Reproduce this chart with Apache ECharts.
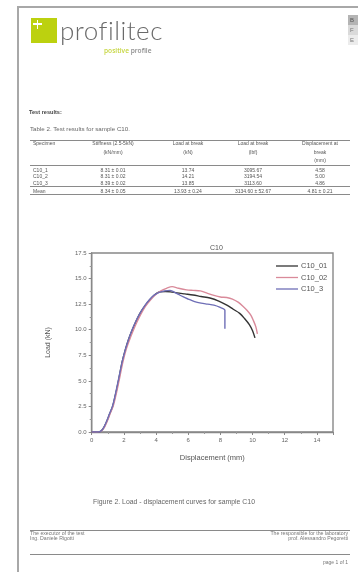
<!DOCTYPE html>
<html><head><meta charset="utf-8">
<script src="https://cdn.jsdelivr.net/npm/echarts/dist/echarts.min.js"></script>
<style>
html,body{margin:0;padding:0;background:#fff;width:358px;height:572px;overflow:hidden;font-family:"Liberation Sans",Arial,sans-serif;}
#doc{position:absolute;left:0;top:0;width:358px;height:572px;will-change:transform;-webkit-font-smoothing:antialiased;}
.a{position:absolute;white-space:nowrap;line-height:1;}
#chart{position:absolute;left:0;top:0;width:358px;height:572px;}
</style></head><body>
<script>
// ---- chart data ----
const seriesNames = ["C10_01", "C10_02", "C10_3"];
const c10_01 = [[0,0],[0.3,0],[0.5,0.02],[0.7,0.3],[0.9,0.9],[1.1,1.7],[1.3,2.5],[1.5,3.8],[1.7,5.3],[1.9,6.9],[2.1,8.1],[2.3,9.1],[2.5,9.9],[2.75,10.8],[3.0,11.6],[3.3,12.3],[3.6,12.9],[3.9,13.4],[4.2,13.7],[4.58,13.74],[4.9,13.7],[5.3,13.6],[5.8,13.5],[6.3,13.4],[6.8,13.25],[7.35,13.1],[7.9,12.8],[8.4,12.4],[8.8,12.0],[9.2,11.6],[9.5,11.1],[9.8,10.5],[10.0,9.9],[10.15,9.2]];
const c10_02 = [[0,0],[0.35,0],[0.55,0.05],[0.75,0.35],[0.95,1.0],[1.15,1.8],[1.35,2.6],[1.55,3.9],[1.75,5.4],[1.95,6.9],[2.15,8.1],[2.35,9.0],[2.55,9.8],[2.8,10.7],[3.05,11.5],[3.35,12.3],[3.65,12.9],[3.95,13.4],[4.3,13.8],[4.65,14.05],[5.0,14.21],[5.4,14.05],[5.9,13.9],[6.3,13.85],[6.75,13.8],[7.2,13.55],[7.6,13.35],[8.0,13.2],[8.4,13.15],[8.75,13.0],[9.1,12.7],[9.4,12.3],[9.65,11.9],[9.9,11.4],[10.05,10.9],[10.2,10.3],[10.3,9.6]];
const c10_3 = [[0,0],[0.3,0],[0.5,0.02],[0.7,0.3],[0.9,0.95],[1.1,1.75],[1.3,2.55],[1.5,3.9],[1.7,5.4],[1.9,6.9],[2.1,8.1],[2.3,9.1],[2.5,9.95],[2.75,10.85],[3.0,11.6],[3.3,12.35],[3.6,12.95],[3.9,13.4],[4.2,13.65],[4.55,13.8],[4.86,13.85],[5.1,13.7],[5.4,13.45],[5.7,13.2],[6.0,13.0],[6.4,12.75],[6.8,12.6],[7.2,12.5],[7.6,12.4],[7.95,12.2],[8.28,11.9],[8.28,10.1]];
const seriesColors = ["#333333", "#d98a9a", "#6e6eb6"];

// ---- table data ----
const tableHeader = [["Specimen"],["Stiffness (2.5-5kN)","(kN/mm)"],["Load at break","(kN)"],["Load at break","(lbf)"],["Displacement at","break","(mm)"]];
const tableRows = [
  ["C10_1","8.31 ± 0.01","13.74","3095.67","4.58"],
  ["C10_2","8.31 ± 0.02","14.21","3194.54","5.00"],
  ["C10_3","8.39 ± 0.02","13.85","3113.60","4.86"],
  ["Mean","8.34 ± 0.05","13.93 ± 0.24","3134.60 ± 52.67","4.81 ± 0.21"]
];
</script>

<div id="doc">
<!-- page frame -->
<div class="a" style="left:17px;top:6px;width:341px;height:2px;background:#a8a8a8;"></div>
<div class="a" style="left:17px;top:6px;width:2px;height:566px;background:#a8a8a8;"></div>

<!-- logo -->
<div class="a" style="left:31px;top:18px;width:26px;height:25px;background:#bcd10f;"></div>
<div class="a" style="left:33px;top:23px;width:9px;height:1.6px;background:#fff;"></div>
<div class="a" style="left:36.7px;top:19.5px;width:1.6px;height:9px;background:#fff;"></div>
<div class="a" style="left:60px;top:17px;font-family:Lato,'Open Sans',sans-serif;font-weight:300;font-size:26px;color:#6a6a6a;letter-spacing:0.5px;">profilitec</div>
<div class="a" style="left:104px;top:47.5px;font-family:'Open Sans',sans-serif;font-weight:600;font-size:6.6px;"><span style="color:#c6d640">positive</span> <span style="color:#8c8c8c">profile</span></div>

<!-- right header box -->
<div class="a" style="left:348px;top:15px;width:10px;height:10px;background:#b4b4b4;"></div>
<div class="a" style="left:348px;top:25px;width:10px;height:10px;background:#dadada;"></div>
<div class="a" style="left:348px;top:35px;width:10px;height:10px;background:#ececec;"></div>
<div class="a" style="left:350px;top:17px;font-size:6px;color:#555;">B</div>
<div class="a" style="left:350px;top:27px;font-size:6px;color:#777;">F</div>
<div class="a" style="left:350px;top:37px;font-size:6px;color:#777;">E</div>

<!-- test results text -->
<div class="a" style="left:29px;top:110px;font-size:5.6px;font-weight:bold;color:#444;">Test results:</div>
<div class="a" style="left:30px;top:126px;font-size:6.2px;color:#666;">Table 2. Test results for sample C10.</div>
<div id="tbl"></div>

<!-- caption + footer -->
<div class="a" style="left:93px;top:498.5px;font-size:6.9px;color:#666;">Figure 2. Load - displacement curves for sample C10</div>
<div class="a" style="left:30px;top:529.5px;width:320px;height:1.5px;background:#8a8a8a;"></div>
<div class="a" style="left:30px;top:531px;font-size:5.2px;color:#777;">The executor of the test</div>
<div class="a" style="left:30px;top:536px;font-size:5.2px;color:#777;">Ing. Daniele Rigotti</div>
<div class="a" style="right:10px;top:531px;font-size:5.2px;color:#777;text-align:right;">The responsible for the laboratory</div>
<div class="a" style="right:10px;top:536px;font-size:5.2px;color:#777;text-align:right;">prof. Alessandro Pegoretti</div>
<div class="a" style="left:30px;top:553.5px;width:320px;height:1.5px;background:#8a8a8a;"></div>
<div class="a" style="right:10px;top:559.5px;font-size:5px;color:#777;">page 1 of 1</div>
</div>

<div id="chart"></div>
<script>
// build table
(function(){
  const t = document.getElementById('tbl');
  const cx = [33, 113, 188, 253, 320];
  let h = '';
  const lines = [139.5, 165, 186, 194];
  lines.forEach(y => { h += '<div class="a" style="left:30px;top:'+y+'px;width:320px;height:1px;background:#8a8a8a;"></div>'; });
  const hy = [140.5, 149.5, 158];
  const st = 'font-size:5px;color:#555;';
  tableHeader.forEach((col, i) => {
    col.forEach((txt, j) => {
      if (i === 0) h += '<div class="a" style="left:'+cx[i]+'px;top:'+hy[j]+'px;'+st+'">'+txt+'</div>';
      else h += '<div class="a" style="left:'+(cx[i]-40)+'px;width:80px;text-align:center;top:'+hy[j]+'px;'+st+'">'+txt+'</div>';
    });
  });
  const ry = [167.5, 174, 180.5, 188.5];
  tableRows.forEach((row, r) => {
    row.forEach((txt, i) => {
      if (i === 0) h += '<div class="a" style="left:'+cx[i]+'px;top:'+ry[r]+'px;'+st+'">'+txt+'</div>';
      else h += '<div class="a" style="left:'+(cx[i]-40)+'px;width:80px;text-align:center;top:'+ry[r]+'px;'+st+'">'+txt+'</div>';
    });
  });
  t.innerHTML = h;
})();

const chart = echarts.init(document.getElementById('chart'), null, {renderer: 'canvas'});
const dataSets = [c10_01, c10_02, c10_3];
chart.setOption({
  backgroundColor: 'transparent',
  animation: false,
  title: {
    text: 'C10', left: 205, top: 240,
    textStyle: {fontSize: 7, fontWeight: 'normal', color: '#555', fontFamily: 'Liberation Sans'}
  },
  legend: {
    orient: 'vertical', left: 271, top: 257,
    icon: 'rect', itemWidth: 22, itemHeight: 1.3, itemGap: 3.5,
    textStyle: {fontSize: 7.5, color: '#555', fontFamily: 'Liberation Sans', padding: [0,0,0,-2]},
    data: seriesNames
  },
  grid: {
    left: 91.7, top: 253, right: 25, bottom: 140,
    show: true, borderColor: '#888', borderWidth: 1.4, backgroundColor: 'transparent'
  },
  xAxis: {
    type: 'value', min: 0, max: 15, interval: 2,
    name: 'Displacement (mm)', nameLocation: 'middle', nameGap: 22,
    nameTextStyle: {fontSize: 7.5, color: '#555', fontFamily: 'Liberation Sans'},
    axisLine: {show: true, lineStyle: {color: '#888', width: 1.4}},
    axisTick: {show: true, length: 3, lineStyle: {color: '#888'}},
    minorTick: {show: true, splitNumber: 2, length: 2, lineStyle: {color: '#999'}},
    splitLine: {show: false},
    axisLabel: {fontSize: 6, color: '#666', margin: 5, showMaxLabel: false, fontFamily: 'Liberation Sans'}
  },
  yAxis: {
    type: 'value', min: 0, max: 17.5, interval: 2.5,
    name: 'Load (kN)', nameLocation: 'middle', nameGap: 40, nameRotate: 90,
    nameTextStyle: {fontSize: 7, color: '#555', fontFamily: 'Liberation Sans'},
    axisLine: {show: true, lineStyle: {color: '#888', width: 1.4}},
    axisTick: {show: true, length: 3, lineStyle: {color: '#888'}},
    minorTick: {show: true, splitNumber: 2, length: 2, lineStyle: {color: '#999'}},
    splitLine: {show: false},
    axisLabel: {fontSize: 6, color: '#666', margin: 5, formatter: v => v.toFixed(1), fontFamily: 'Liberation Sans'}
  },
  series: seriesNames.map((n, i) => ({
    name: n, type: 'line', data: dataSets[i], symbol: 'none', smooth: 0.3,
    lineStyle: {color: seriesColors[i], width: 1.4},
    itemStyle: {color: seriesColors[i]}
  }))
});
</script>
</body></html>
